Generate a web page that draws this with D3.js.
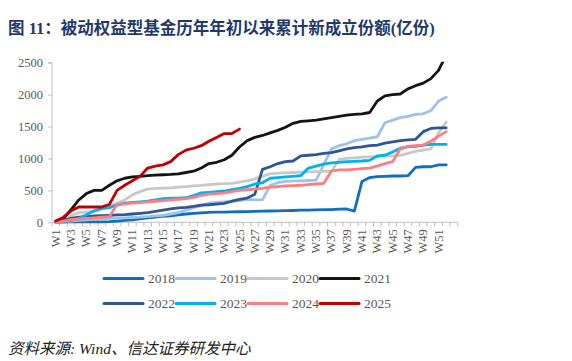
<!DOCTYPE html>
<html><head><meta charset="utf-8">
<script src="https://cdn.jsdelivr.net/npm/d3@7"></script>
<style>body{margin:0;background:#fff}svg{display:block}</style>
</head><body>
<svg id="c" width="572" height="361"></svg>
<script>
const weeks = d3.range(1, 54).map(i => "W" + i);
const tickLabels = d3.range(1, 52, 2).map(i => "W" + i);
const yTicks = [0, 500, 1000, 1500, 2000, 2500];
const seriesNames = ["2018","2019","2020","2021","2022","2023","2024","2025"];

const v2018 = [5,5,6,6,7,8,8,10,20,30,40,55,70,80,95,100,115,130,140,148,155,158,160,163,165,168,172,175,177,180,182,185,190,192,195,198,200,205,208,175,640,700,715,720,725,725,730,860,870,870,900,900];
const v2019 = [0,10,20,30,40,50,55,60,65,70,75,80,90,100,110,130,150,190,230,260,300,310,320,330,340,360,350,350,580,620,640,650,650,655,660,900,1150,1200,1230,1280,1300,1320,1340,1560,1600,1640,1660,1690,1700,1750,1900,1960];
const v2020 = [0,30,100,150,160,170,200,250,300,350,430,480,520,530,535,540,550,560,570,580,590,600,605,610,630,650,680,720,760,770,775,780,785,790,795,800,800,980,1000,1010,1020,1025,1030,1035,1040,1050,1080,1110,1130,1150,1400,1570];
const v2021 = [20,60,200,350,450,500,500,580,650,690,710,720,730,740,745,750,760,780,800,850,920,940,980,1050,1180,1280,1330,1360,1400,1440,1490,1550,1580,1590,1600,1620,1640,1660,1680,1690,1700,1720,1900,1980,2000,2010,2090,2140,2180,2250,2380,2620];
const v2022 = [0,30,60,80,90,100,105,110,115,120,130,140,150,170,190,210,225,235,250,270,275,285,295,330,360,380,440,830,870,920,950,960,1040,1050,1060,1080,1090,1120,1150,1170,1180,1200,1210,1240,1260,1280,1290,1300,1420,1470,1480,1480];
const v2023 = [0,10,30,60,120,180,220,230,270,300,310,320,330,350,370,380,380,385,420,460,470,480,490,510,530,560,600,620,690,700,710,720,730,850,880,910,930,940,950,955,960,970,1040,1050,1100,1160,1180,1190,1210,1220,1220,1220];
const v2024 = [0,20,40,50,60,70,80,90,280,290,300,310,320,330,340,350,360,370,390,420,440,450,460,480,500,510,520,530,550,560,570,575,580,590,600,610,800,820,820,830,840,850,880,920,950,1150,1190,1200,1210,1270,1350,1420];
const v2025 = [20,80,180,240,240,240,240,280,500,580,650,720,850,880,900,950,1060,1130,1160,1200,1270,1330,1390,1390,1460];

const seriesValues = [v2018,v2019,v2020,v2021,v2022,v2023,v2024,v2025];
const colors = ["#0F6FBF","#9DC3E6","#C8C8C8","#141414","#2F5597","#00B0F0","#FF7C80","#C00000"];

const svg = d3.select("#c");
const x = d3.scaleBand().domain(weeks).range([52, 457.7]).padding(0);
const y = d3.scaleLinear().domain([0, 2500]).range([222.3, 62.7]);
const axisColor = "#BFBFBF";
const txtColor = "#595959";

// title
svg.append("text").attr("x", 8).attr("y", 34)
  .attr("font-family", "'Liberation Serif','Noto Sans CJK SC',serif")
  .attr("font-weight", "bold").attr("font-size", 16.5).attr("fill", "#1F3A6A")
  .text("图 11：被动权益型基金历年年初以来累计新成立份额(亿份)");

// y axis
const yAxis = svg.append("g").attr("transform", "translate(52,0)")
  .call(d3.axisLeft(y).tickValues(yTicks).tickSize(4).tickPadding(5).tickFormat(d3.format("d")));
yAxis.select(".domain").attr("stroke", axisColor).attr("d", `M-4,${y(2500)}H0V${y(0)}`);
yAxis.selectAll(".tick line").attr("stroke", axisColor);
yAxis.selectAll("text").attr("font-family", "'Liberation Serif',serif").attr("font-size", 12.5).attr("fill", txtColor);

// x axis line and ticks at band boundaries
const xg = svg.append("g");
xg.append("line").attr("x1", 52).attr("x2", 457.7).attr("y1", y(0)).attr("y2", y(0)).attr("stroke", axisColor).attr("stroke-width", 1);
const bounds = weeks.map(w => x(w)).concat([x(weeks[weeks.length-1]) + x.bandwidth()]);
xg.selectAll("line.t").data(bounds).join("line").attr("class","t")
  .attr("x1", d => d).attr("x2", d => d).attr("y1", y(0)).attr("y2", y(0) + 4).attr("stroke", axisColor);
xg.selectAll("text").data(tickLabels).join("text")
  .attr("transform", d => `translate(${x(d) + x.bandwidth()/2 + 4},${y(0) + 7}) rotate(-90)`)
  .attr("text-anchor", "end")
  .attr("font-family", "'Liberation Serif',serif").attr("font-size", 12.5).attr("fill", txtColor)
  .text(d => d);

// clip
svg.append("clipPath").attr("id", "pc").append("rect")
  .attr("x", 52).attr("y", y(2500) - 1).attr("width", 410).attr("height", y(0) - y(2500) + 5);

const line = d3.line().x((d, i) => x(weeks[i]) + x.bandwidth()/2).y(d => y(d));
const lg = svg.append("g").attr("clip-path", "url(#pc)");
seriesValues.forEach((vals, k) => {
  lg.append("path").datum(vals).attr("d", line).attr("fill", "none")
    .attr("stroke", colors[k]).attr("stroke-width", 2.8).attr("stroke-linejoin", "round").attr("stroke-linecap", "round");
});

// legend
const leg = svg.append("g");
seriesNames.forEach((n, k) => {
  const col = k % 4, row = Math.floor(k / 4);
  const lx = 104 + col * 72, ly = 278.5 + row * 25;
  leg.append("line").attr("x1", lx).attr("x2", lx + 39).attr("y1", ly).attr("y2", ly)
    .attr("stroke", colors[k]).attr("stroke-width", 3).attr("stroke-linecap", "round");
  leg.append("text").attr("x", lx + 44).attr("y", ly + 4.5)
    .attr("font-family", "'Liberation Serif',serif").attr("font-size", 13.5).attr("fill", txtColor).text(n);
});

// footer
svg.append("text").attr("x", 8).attr("y", 354)
  .attr("font-family", "'Liberation Serif','Noto Sans CJK SC',serif").attr("font-style", "italic")
  .attr("font-size", 15.5).attr("fill", "#222").text("资料来源: Wind、信达证券研发中心");
</script>
</body></html>
